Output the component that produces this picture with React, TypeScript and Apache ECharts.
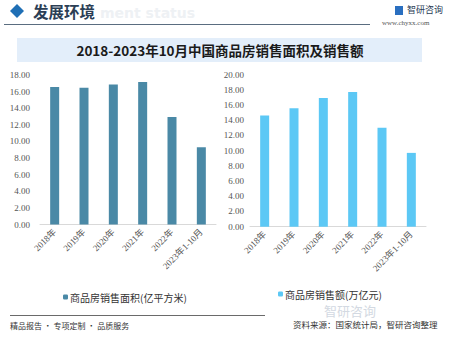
import React, { useEffect, useRef } from "react";
import * as echarts from "echarts";

const categories = ["2018年", "2019年", "2020年", "2021年", "2022年", "2023年1-10月"];
const areaValues = [16.55, 16.45, 16.85, 17.15, 12.95, 9.3];
const amountValues = [14.6, 15.55, 16.9, 17.7, 13.0, 9.7];
const areaName = "商品房销售面积(亿平方米)";
const amountName = "商品房销售额(万亿元)";
const title = "2018-2023年10月中国商品房销售面积及销售额";

export default function App() {
  const ref = useRef<HTMLDivElement>(null);
  useEffect(() => {
    const chart = echarts.init(ref.current!, undefined, { renderer: "svg" });
    const serif = "'Liberation Serif', 'DejaVu Serif', 'Noto Sans CJK SC', serif";
    const axisLabel = { color: "#555", fontSize: 9, fontFamily: serif };
    chart.setOption({
      animation: false,
      backgroundColor: "#ffffff",
      graphic: [
        { type: "text", x: 100, y: 6, z: -1, style: { text: "ment status", fill: "#eef1f4", fontSize: 14, fontWeight: "bold", fontFamily: "'DejaVu Sans'" } },
        { type: "polygon", shape: { points: [[17, 4], [24, 11], [17, 18], [10, 11]] }, style: { fill: "#1f6fb5" } },
        { type: "text", x: 33, y: 3, style: { text: "发展环境", fill: "#2b3e55", fontSize: 15.5, fontWeight: "bold", fontFamily: "'Noto Sans CJK SC'" } },
        { type: "line", shape: { x1: 4, y1: 24.5, x2: 370, y2: 24.5 }, style: { stroke: "#5a6d80", lineWidth: 1 } },
        { type: "rect", shape: { x: 395, y: 6, width: 8, height: 9 }, style: { fill: "#2a6fc0" } },
        { type: "text", x: 407, y: 5, style: { text: "智研咨询", fill: "#2a3b55", fontSize: 9, fontFamily: "'Noto Sans CJK SC'" } },
        { type: "text", x: 382, y: 19, style: { text: "www.chyxx.com", fill: "#555", fontSize: 7, fontFamily: serif } },
        { type: "rect", shape: { x: 17, y: 38, width: 405, height: 24 }, style: { fill: "#e3eefa" } },
        { type: "text", x: 220, y: 50, style: { text: title, fill: "#1a1a1a", fontSize: 13.5, fontWeight: "bold", fontFamily: "'Noto Sans CJK SC'", align: "center", verticalAlign: "middle" } },
        { type: "text", x: 324, y: 304, style: { text: "智研咨询", fill: "#d3d9e2", fontSize: 13, fontFamily: "'Noto Sans CJK SC'" } },
        { type: "line", shape: { x1: 10, y1: 315.5, x2: 265, y2: 315.5 }, style: { stroke: "#6a6a6a", lineWidth: 1 } },
        { type: "text", x: 10, y: 321, style: { text: "精品报告 · 专项定制 · 品质服务", fill: "#333", fontSize: 8, fontFamily: "'Noto Sans CJK SC'" } },
        { type: "text", x: 293, y: 320, style: { text: "资料来源：国家统计局，智研咨询整理", fill: "#333", fontSize: 8.5, fontFamily: "'Noto Sans CJK SC'" } }
      ],
      legend: [
        { left: 58, top: 287, itemWidth: 5, itemHeight: 5, data: [areaName], textStyle: { fontSize: 10, color: "#333", fontFamily: "'Noto Sans CJK SC'", padding: [0, 0, 0, -3] } },
        { left: 273, top: 284, itemWidth: 5, itemHeight: 5, data: [amountName], textStyle: { fontSize: 10, color: "#333", fontFamily: "'Noto Sans CJK SC'", padding: [0, 0, 0, -3] } }
      ],
      grid: [
        { left: 40, top: 75, width: 176, height: 149.5 },
        { left: 250, top: 74.5, width: 176, height: 152.2 }
      ],
      xAxis: [0, 1].map((i) => ({
        type: "category",
        gridIndex: i,
        data: categories,
        axisLine: { lineStyle: { color: "#d9d9d9" } },
        axisTick: { show: false },
        axisLabel: { ...axisLabel, rotate: 45, margin: 6, interval: 0 }
      })),
      yAxis: [
        { type: "value", gridIndex: 0, min: 0, max: 18, interval: 2, splitLine: { show: false }, axisLine: { show: false }, axisTick: { show: false }, axisLabel: { ...axisLabel, margin: 10, formatter: (v: number) => v.toFixed(2) } },
        { type: "value", gridIndex: 1, min: 0, max: 20, interval: 2, splitLine: { show: false }, axisLine: { show: false }, axisTick: { show: false }, axisLabel: { ...axisLabel, margin: 6, formatter: (v: number) => v.toFixed(2) } }
      ],
      series: [
        { name: areaName, type: "bar", xAxisIndex: 0, yAxisIndex: 0, data: areaValues, barWidth: 9, itemStyle: { color: "#4a89a6" } },
        { name: amountName, type: "bar", xAxisIndex: 1, yAxisIndex: 1, data: amountValues, barWidth: 9, itemStyle: { color: "#5cc8f5" } }
      ]
    });
    return () => chart.dispose();
  }, []);
  return <div ref={ref} style={{ width: 450, height: 346, position: "absolute", left: 0, top: 0 }} />;
}
